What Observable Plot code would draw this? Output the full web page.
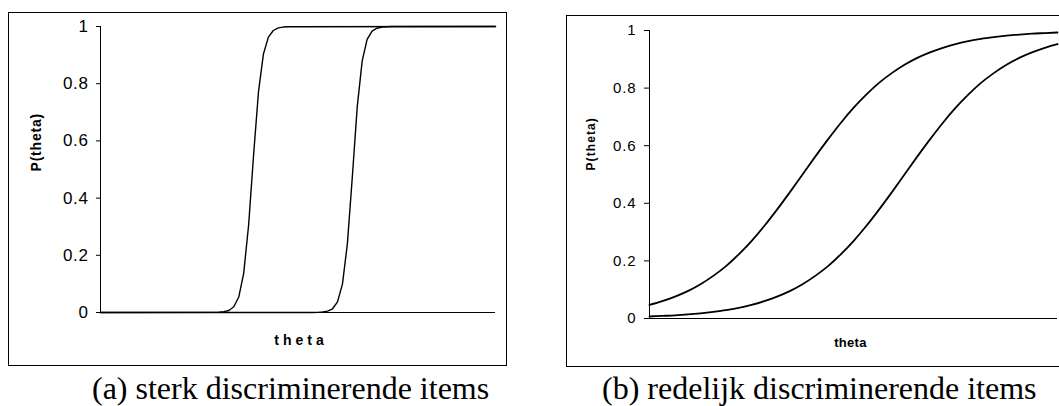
<!DOCTYPE html>
<html>
<head>
<meta charset="utf-8">
<script src="https://cdn.jsdelivr.net/npm/d3@7"></script>
<script src="https://cdn.jsdelivr.net/npm/@observablehq/plot@0.6"></script>
<style>
  html, body { margin: 0; padding: 0; background: #fff; }
  #page { position: relative; width: 1059px; height: 406px; overflow: hidden; background: #fff; }
  .box { position: absolute; border: 1px solid #000; box-sizing: border-box; }
  .box svg { position: absolute; left: 0; top: 0; }
  .caption { position: absolute; font-family: "Liberation Serif", "Times New Roman", serif; font-size: 32px; line-height: 32px; color: #000; white-space: nowrap; }
  .pl g[aria-label="y-axis tick label"] text { letter-spacing: 0.6px; }
  .pr g[aria-label="y-axis tick label"] text { letter-spacing: 0.9px; }
</style>
</head>
<body>
<div id="page">
  <div class="box" id="boxL" style="left:8px; top:12px; width:499px; height:354px;"></div>
  <div class="box" id="boxR" style="left:566px; top:15px; width:509px; height:352px;"></div>
  <div class="caption" id="capL" style="left:92px; top:372px;"></div>
  <div class="caption" id="capR" style="left:602px; top:372px;"></div>
</div>
<script>
// ---- data ----
const yTicks = [0, 0.2, 0.4, 0.6, 0.8, 1];
const yTickLabels = ["0", "0.2", "0.4", "0.6", "0.8", "1"];
const xLabel = "theta";
const yLabel = "P(theta)";
const captionLeft = "(a) sterk discriminerende items";
const captionRight = "(b) redelijk discriminerende items";

// panel (a): strongly discriminating items
const thetaL1 = [-4, -1.7, -1.6, -1.5, -1.4, -1.3, -1.2, -1.1, -1.0, -0.9, -0.8, -0.7, -0.6, -0.5, -0.4, -0.3, -0.2, 4];
const pL1     = [0, 0.0004, 0.001, 0.003, 0.007, 0.020, 0.054, 0.137, 0.306, 0.550, 0.772, 0.904, 0.963, 0.986, 0.995, 0.998, 0.999, 1];
const thetaL2 = [-4, 0.3, 0.4, 0.5, 0.6, 0.7, 0.8, 0.9, 1.0, 1.1, 1.2, 1.3, 1.4, 1.5, 1.6, 1.7, 1.8, 1.9, 4];
const pL2     = [0, 0.0002, 0.0006, 0.0017, 0.005, 0.013, 0.037, 0.099, 0.240, 0.474, 0.720, 0.880, 0.955, 0.984, 0.994, 0.998, 0.9993, 0.9998, 1];

// panel (b): moderately discriminating items
const thetaR = [-4, -3.75, -3.5, -3.25, -3, -2.75, -2.5, -2.25, -2, -1.75, -1.5, -1.25, -1, -0.75, -0.5, -0.25, 0, 0.25, 0.5, 0.75, 1, 1.25, 1.5, 1.75, 2, 2.25, 2.5, 2.75, 3, 3.25, 3.5, 3.75, 4];
const pR1 = [0.047, 0.060, 0.076, 0.095, 0.119, 0.148, 0.182, 0.223, 0.269, 0.321, 0.378, 0.438, 0.500, 0.562, 0.622, 0.679, 0.731, 0.777, 0.818, 0.852, 0.881, 0.905, 0.924, 0.940, 0.953, 0.963, 0.971, 0.977, 0.982, 0.986, 0.989, 0.991, 0.993];
const pR2 = [0.007, 0.009, 0.011, 0.014, 0.018, 0.023, 0.029, 0.037, 0.047, 0.060, 0.076, 0.095, 0.119, 0.148, 0.182, 0.223, 0.269, 0.321, 0.378, 0.438, 0.500, 0.562, 0.622, 0.679, 0.731, 0.777, 0.818, 0.852, 0.881, 0.905, 0.924, 0.940, 0.953];

// ---- build tables ----
const rows = (xs, ys, item) => xs.map((x, i) => ({theta: x, p: ys[i], item}));
const dataL = [...rows(thetaL1, pL1, "1"), ...rows(thetaL2, pL2, "2")];
const dataR = [...rows(thetaR, pR1, "1"), ...rows(thetaR, pR2, "2")];
const fmt = d => yTickLabels[yTicks.indexOf(d)];

function panel(cfg) {
  return Plot.plot({
    className: cfg.cls,
    width: cfg.width, height: cfg.height,
    marginLeft: cfg.ml, marginRight: cfg.mr, marginTop: cfg.mt, marginBottom: cfg.mb,
    x: {domain: [-4, 4], axis: null},
    y: {domain: [0, 1], axis: null},
    style: {background: "transparent", fontFamily: "'Liberation Sans', Arial, sans-serif", color: "#000", overflow: "visible"},
    marks: [
      Plot.ruleX([-4], {stroke: "#000", strokeWidth: 1}),
      Plot.ruleY([0], {stroke: "#000", strokeWidth: 1}),
      Plot.axisY(yTicks, {tickSize: cfg.tickSize, tickPadding: cfg.tickPad, tickFormat: fmt, fontSize: cfg.tickFont, stroke: "#000", fill: "#000", label: null}),
      Plot.line(cfg.data, {x: "theta", y: "p", z: "item", stroke: "#000", strokeWidth: cfg.sw, curve: cfg.curve}),
      Plot.text([yLabel], {frameAnchor: "left", dx: cfg.ylDx, dy: cfg.ylDy, rotate: -90, fontWeight: "bold", fontSize: cfg.ylFont, fill: "#000"}),
      Plot.text([xLabel], {frameAnchor: "bottom", dx: cfg.xlDx, dy: cfg.xlDy, fontWeight: "bold", fontSize: cfg.xlFont, fill: "#000"})
    ]
  });
}

const left = panel({
  cls: "pl", data: dataL, width: 497, height: 352, ml: 91, mr: 11, mt: 13, mb: 53,
  tickSize: 4, tickPad: 8, tickFont: 17, sw: 1.4, curve: "linear",
  ylDx: -63.5, ylDy: 2, ylFont: 14, xlDx: 3, xlDy: 32.5, xlFont: 14
});
const right = panel({
  cls: "pr", data: dataR, width: 507, height: 350, ml: 82, mr: 17, mt: 14, mb: 48,
  tickSize: 5, tickPad: 8, tickFont: 15, sw: 1.8, curve: "monotone-x",
  ylDx: -58.5, ylDy: -4, ylFont: 12, xlDx: -3, xlDy: 28.5, xlFont: 13
});
document.getElementById("boxL").appendChild(left);
document.getElementById("boxR").appendChild(right);

// letter-spacing for axis titles
d3.select(left).selectAll("text").filter(function() { return this.textContent === yLabel; }).style("letter-spacing", "0.8px");
d3.select(left).selectAll("text").filter(function() { return this.textContent === xLabel; }).style("letter-spacing", "4px");
d3.select(right).selectAll("text").filter(function() { return this.textContent === yLabel; }).style("letter-spacing", "1.1px");
d3.select(right).selectAll("text").filter(function() { return this.textContent === xLabel; }).style("letter-spacing", "0.3px");

document.getElementById("capL").textContent = captionLeft;
document.getElementById("capR").textContent = captionRight;
</script>
</body>
</html>
